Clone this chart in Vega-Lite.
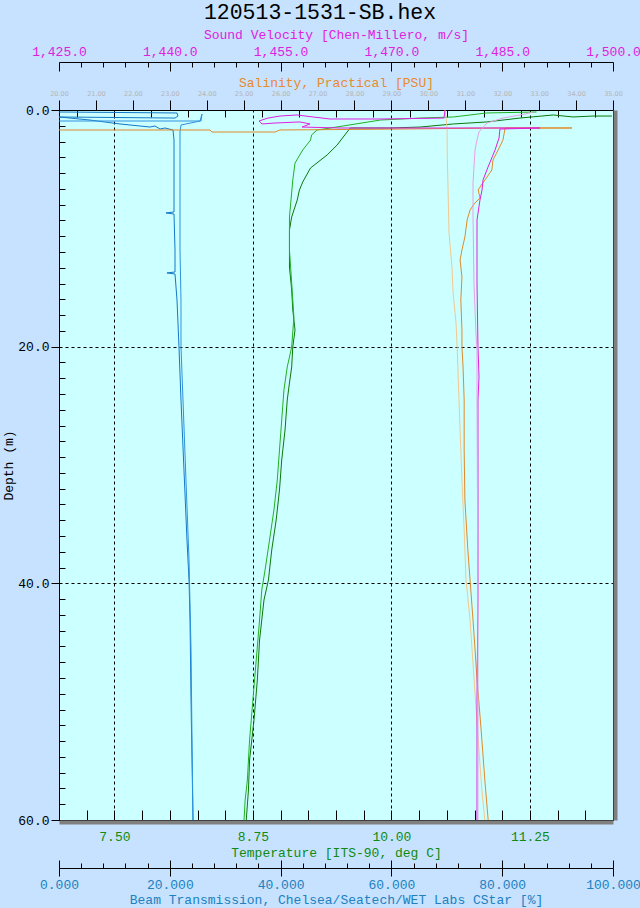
{
"$schema": "https://vega.github.io/schema/vega-lite/v6.json",
"width": 554, "height": 710,
"autosize": {"type": "none"},
"padding": {"left": 59, "top": 110, "right": 27, "bottom": 88},
"background": "#c6e2fe",
"title": {"text": "120513-1531-SB.hex", "font": "Liberation Mono", "fontSize": 21.5, "fontWeight": "normal", "color": "#000000", "anchor": "middle", "dx": -16, "offset": 5},
"config": {
  "view": {"fill": "#ccffff", "stroke": "#000000", "strokeWidth": 1},
  "axis": {"labelFont": "Liberation Mono", "titleFont": "Liberation Mono", "labelFontSize": 13, "titleFontSize": 13, "titleFontWeight": "normal", "labelOverlap": false, "labelFlush": false, "labelBound": false, "domainColor": "#000000", "tickColor": "#000000", "grid": false}
},
"datasets": {
  "temp": [
    {"i":0,"cast":"down","v":11.99,"d":0.51},{"i":1,"cast":"down","v":11.82,"d":0.51},{"i":2,"cast":"down","v":11.64,"d":0.59},{"i":3,"cast":"down","v":11.46,"d":0.42},{"i":4,"cast":"down","v":11.16,"d":0.68},{"i":5,"cast":"down","v":10.86,"d":1.01},{"i":6,"cast":"down","v":10.56,"d":1.18},{"i":7,"cast":"down","v":10.26,"d":1.44},{"i":8,"cast":"down","v":9.99,"d":1.52},{"i":9,"cast":"down","v":9.63,"d":1.52},{"i":10,"cast":"down","v":9.60,"d":1.86},{"i":11,"cast":"down","v":9.51,"d":2.96},{"i":12,"cast":"down","v":9.42,"d":3.80},{"i":13,"cast":"down","v":9.27,"d":4.90},{"i":14,"cast":"down","v":9.20,"d":6.08},{"i":15,"cast":"down","v":9.17,"d":6.76},{"i":16,"cast":"down","v":9.15,"d":7.61},{"i":17,"cast":"down","v":9.10,"d":9.04},{"i":18,"cast":"down","v":9.08,"d":10.14},{"i":19,"cast":"down","v":9.08,"d":11.83},{"i":20,"cast":"down","v":9.08,"d":13.27},{"i":21,"cast":"down","v":9.10,"d":15.21},{"i":22,"cast":"down","v":9.11,"d":16.90},{"i":23,"cast":"down","v":9.13,"d":18.59},{"i":24,"cast":"down","v":9.11,"d":20.03},{"i":25,"cast":"down","v":9.10,"d":21.72},{"i":26,"cast":"down","v":9.08,"d":23.07},{"i":27,"cast":"down","v":9.06,"d":24.51},{"i":28,"cast":"down","v":9.04,"d":27.04},{"i":29,"cast":"down","v":9.01,"d":29.58},{"i":30,"cast":"down","v":8.99,"d":32.11},{"i":31,"cast":"down","v":8.96,"d":34.65},{"i":32,"cast":"down","v":8.92,"d":37.18},{"i":33,"cast":"down","v":8.89,"d":39.72},{"i":34,"cast":"down","v":8.85,"d":41.41},{"i":35,"cast":"down","v":8.81,"d":44.79},{"i":36,"cast":"down","v":8.79,"d":48.17},{"i":37,"cast":"down","v":8.76,"d":51.55},{"i":38,"cast":"down","v":8.72,"d":54.93},{"i":39,"cast":"down","v":8.71,"d":57.46},{"i":40,"cast":"down","v":8.69,"d":60},
    {"i":0,"cast":"up","v":8.67,"d":60},{"i":1,"cast":"up","v":8.68,"d":58.31},{"i":2,"cast":"up","v":8.70,"d":56.62},{"i":3,"cast":"up","v":8.72,"d":53.24},{"i":4,"cast":"up","v":8.75,"d":49.86},{"i":5,"cast":"up","v":8.78,"d":46.48},{"i":6,"cast":"up","v":8.81,"d":43.10},{"i":7,"cast":"up","v":8.83,"d":40.56},{"i":8,"cast":"up","v":8.86,"d":38.87},{"i":9,"cast":"up","v":8.90,"d":36.34},{"i":10,"cast":"up","v":8.94,"d":33.80},{"i":11,"cast":"up","v":8.97,"d":31.27},{"i":12,"cast":"up","v":8.99,"d":28.73},{"i":13,"cast":"up","v":9.01,"d":26.20},{"i":14,"cast":"up","v":9.03,"d":23.66},{"i":15,"cast":"up","v":9.06,"d":21.72},{"i":16,"cast":"up","v":9.10,"d":20.03},{"i":17,"cast":"up","v":9.12,"d":17.49},{"i":18,"cast":"up","v":9.10,"d":14.62},{"i":19,"cast":"up","v":9.08,"d":11.83},{"i":20,"cast":"up","v":9.08,"d":9.04},{"i":21,"cast":"up","v":9.11,"d":5.92},{"i":22,"cast":"up","v":9.13,"d":4.48},{"i":23,"cast":"up","v":9.20,"d":3.38},{"i":24,"cast":"up","v":9.27,"d":2.54},{"i":25,"cast":"up","v":9.28,"d":2.11},{"i":26,"cast":"up","v":9.33,"d":1.69},{"i":27,"cast":"up","v":9.45,"d":1.52},{"i":28,"cast":"up","v":9.90,"d":0.85},{"i":29,"cast":"up","v":10.26,"d":0.68},{"i":30,"cast":"up","v":10.56,"d":0.59},{"i":31,"cast":"up","v":10.86,"d":0.25},{"i":32,"cast":"up","v":11.31,"d":0.17}
  ],
  "beam": [
    {"i":0,"cast":"down","v":0,"d":0.17},{"i":1,"cast":"down","v":21.30,"d":0.25},{"i":2,"cast":"down","v":21.48,"d":0.51},{"i":3,"cast":"down","v":20.94,"d":0.68},{"i":4,"cast":"down","v":0,"d":0.59},{"i":5,"cast":"down","v":5.60,"d":0.85},{"i":6,"cast":"down","v":11.01,"d":1.18},{"i":7,"cast":"down","v":16.43,"d":1.44},{"i":8,"cast":"down","v":17.33,"d":1.35},{"i":9,"cast":"down","v":18.23,"d":1.61},{"i":10,"cast":"down","v":19.13,"d":1.52},{"i":11,"cast":"down","v":20.58,"d":1.69},{"i":12,"cast":"down","v":20.76,"d":2.54},{"i":13,"cast":"down","v":20.76,"d":3.38},{"i":14,"cast":"down","v":20.76,"d":8.62},{"i":15,"cast":"down","v":19.31,"d":8.70},{"i":16,"cast":"down","v":20.76,"d":8.79},{"i":17,"cast":"down","v":20.94,"d":11.83},{"i":18,"cast":"down","v":20.94,"d":13.69},{"i":19,"cast":"down","v":19.49,"d":13.77},{"i":20,"cast":"down","v":20.94,"d":13.86},{"i":21,"cast":"down","v":21.30,"d":16.06},{"i":22,"cast":"down","v":21.66,"d":20.03},{"i":23,"cast":"down","v":22.02,"d":24.51},{"i":24,"cast":"down","v":22.56,"d":30.42},{"i":25,"cast":"down","v":23.10,"d":36.34},{"i":26,"cast":"down","v":23.47,"d":39.72},{"i":27,"cast":"down","v":23.65,"d":43.10},{"i":28,"cast":"down","v":23.83,"d":49.86},{"i":29,"cast":"down","v":24.01,"d":54.93},{"i":30,"cast":"down","v":24.19,"d":60},
    {"i":0,"cast":"up","v":24.19,"d":60},{"i":1,"cast":"up","v":24.01,"d":53.24},{"i":2,"cast":"up","v":23.83,"d":45.63},{"i":3,"cast":"up","v":23.47,"d":38.03},{"i":4,"cast":"up","v":22.92,"d":31.27},{"i":5,"cast":"up","v":22.38,"d":24.51},{"i":6,"cast":"up","v":22.02,"d":20.03},{"i":7,"cast":"up","v":22.02,"d":16.06},{"i":8,"cast":"up","v":21.84,"d":11.83},{"i":9,"cast":"up","v":21.84,"d":7.61},{"i":10,"cast":"up","v":21.84,"d":3.38},{"i":11,"cast":"up","v":21.84,"d":1.86},{"i":12,"cast":"up","v":22.02,"d":1.27},{"i":13,"cast":"up","v":25.45,"d":0.93},{"i":14,"cast":"up","v":25.81,"d":0.34},{"i":15,"cast":"up","v":25.63,"d":0.93},{"i":16,"cast":"up","v":0,"d":0.93}
  ],
  "sal": [
    {"i":0,"cast":"down","v":20.00,"d":1.69},{"i":1,"cast":"down","v":24.09,"d":1.69},{"i":2,"cast":"down","v":24.14,"d":1.86},{"i":3,"cast":"down","v":25.85,"d":1.86},{"i":4,"cast":"down","v":25.98,"d":1.69},{"i":5,"cast":"down","v":29.23,"d":1.61},{"i":6,"cast":"down","v":31.94,"d":1.52},{"i":7,"cast":"down","v":33.89,"d":1.52},{"i":8,"cast":"down","v":32.08,"d":1.52},{"i":9,"cast":"down","v":32.02,"d":2.54},{"i":10,"cast":"down","v":31.89,"d":3.38},{"i":11,"cast":"down","v":31.75,"d":4.23},{"i":12,"cast":"down","v":31.72,"d":5.07},{"i":13,"cast":"down","v":31.59,"d":5.66},{"i":14,"cast":"down","v":31.40,"d":6.51},{"i":15,"cast":"down","v":31.35,"d":6.76},{"i":16,"cast":"down","v":31.40,"d":7.44},{"i":17,"cast":"down","v":31.26,"d":7.86},{"i":18,"cast":"down","v":31.13,"d":8.45},{"i":19,"cast":"down","v":31.05,"d":9.30},{"i":20,"cast":"down","v":30.99,"d":10.73},{"i":21,"cast":"down","v":30.91,"d":11.83},{"i":22,"cast":"down","v":30.86,"d":12.68},{"i":23,"cast":"down","v":30.91,"d":14.11},{"i":24,"cast":"down","v":30.88,"d":16.06},{"i":25,"cast":"down","v":30.91,"d":18.59},{"i":26,"cast":"down","v":30.91,"d":20.03},{"i":27,"cast":"down","v":30.94,"d":21.72},{"i":28,"cast":"down","v":30.97,"d":24.51},{"i":29,"cast":"down","v":30.97,"d":28.73},{"i":30,"cast":"down","v":30.99,"d":32.96},{"i":31,"cast":"down","v":31.07,"d":37.18},{"i":32,"cast":"down","v":31.13,"d":39.72},{"i":33,"cast":"down","v":31.21,"d":43.10},{"i":34,"cast":"down","v":31.32,"d":48.17},{"i":35,"cast":"down","v":31.43,"d":52.39},{"i":36,"cast":"down","v":31.53,"d":56.62},{"i":37,"cast":"down","v":31.62,"d":60},
    {"i":0,"cast":"up","v":31.53,"d":60},{"i":1,"cast":"up","v":31.45,"d":57.46},{"i":2,"cast":"up","v":31.35,"d":53.24},{"i":3,"cast":"up","v":31.24,"d":48.17},{"i":4,"cast":"up","v":31.13,"d":43.10},{"i":5,"cast":"up","v":31.02,"d":39.72},{"i":6,"cast":"up","v":30.97,"d":35.49},{"i":7,"cast":"up","v":30.91,"d":31.27},{"i":8,"cast":"up","v":30.86,"d":27.04},{"i":9,"cast":"up","v":30.83,"d":24.51},{"i":10,"cast":"up","v":30.80,"d":21.72},{"i":11,"cast":"up","v":30.78,"d":20.03},{"i":12,"cast":"up","v":30.75,"d":18.00},{"i":13,"cast":"up","v":30.67,"d":15.46},{"i":14,"cast":"up","v":30.64,"d":13.27},{"i":15,"cast":"up","v":30.56,"d":10.39},{"i":16,"cast":"up","v":30.53,"d":6.17},{"i":17,"cast":"up","v":30.51,"d":3.38},{"i":18,"cast":"up","v":30.51,"d":1.52},{"i":19,"cast":"up","v":30.48,"d":0.68},{"i":20,"cast":"up","v":30.45,"d":0}
  ],
  "sv": [
    {"i":0,"cast":"down","v":1477.26,"d":0},{"i":1,"cast":"down","v":1477.12,"d":0.68},{"i":2,"cast":"down","v":1468.46,"d":0.76},{"i":3,"cast":"down","v":1461.69,"d":0.76},{"i":4,"cast":"down","v":1459.39,"d":0.59},{"i":5,"cast":"down","v":1457.22,"d":0.42},{"i":6,"cast":"down","v":1454.92,"d":0.51},{"i":7,"cast":"down","v":1453.29,"d":0.68},{"i":8,"cast":"down","v":1452.08,"d":0.93},{"i":9,"cast":"down","v":1452.48,"d":1.18},{"i":10,"cast":"down","v":1454.24,"d":1.10},{"i":11,"cast":"down","v":1457.63,"d":1.01},{"i":12,"cast":"down","v":1458.98,"d":1.18},{"i":13,"cast":"down","v":1457.90,"d":1.44},{"i":14,"cast":"down","v":1463.04,"d":1.52},{"i":15,"cast":"down","v":1475.23,"d":1.52},{"i":16,"cast":"down","v":1483.62,"d":1.52},{"i":17,"cast":"down","v":1490.12,"d":1.52},{"i":18,"cast":"down","v":1484.70,"d":1.61},{"i":19,"cast":"down","v":1484.57,"d":2.37},{"i":20,"cast":"down","v":1484.03,"d":3.38},{"i":21,"cast":"down","v":1483.08,"d":4.82},{"i":22,"cast":"down","v":1482.40,"d":5.92},{"i":23,"cast":"down","v":1482.27,"d":6.76},{"i":24,"cast":"down","v":1481.99,"d":7.61},{"i":25,"cast":"down","v":1481.59,"d":9.30},{"i":26,"cast":"down","v":1481.59,"d":14.62},{"i":27,"cast":"down","v":1481.72,"d":20.03},{"i":28,"cast":"down","v":1481.86,"d":22.56},{"i":29,"cast":"down","v":1481.72,"d":24.51},{"i":30,"cast":"down","v":1481.72,"d":32.96},{"i":31,"cast":"down","v":1481.72,"d":41.41},{"i":32,"cast":"down","v":1481.59,"d":49.86},{"i":33,"cast":"down","v":1481.59,"d":60},
    {"i":0,"cast":"up","v":1481.72,"d":60},{"i":1,"cast":"up","v":1481.72,"d":41.41},{"i":2,"cast":"up","v":1481.59,"d":24.51},{"i":3,"cast":"up","v":1481.59,"d":20.28},{"i":4,"cast":"up","v":1481.45,"d":18.85},{"i":5,"cast":"up","v":1481.18,"d":14.62},{"i":6,"cast":"up","v":1481.05,"d":9.04},{"i":7,"cast":"up","v":1481.05,"d":6.17},{"i":8,"cast":"up","v":1481.32,"d":3.38},{"i":9,"cast":"up","v":1481.59,"d":2.54},{"i":10,"cast":"up","v":1481.86,"d":1.86},{"i":11,"cast":"up","v":1482.94,"d":1.10},{"i":12,"cast":"up","v":1485.11,"d":0.68},{"i":13,"cast":"up","v":1487.41,"d":0.42},{"i":14,"cast":"up","v":1488.76,"d":0.25},{"i":15,"cast":"up","v":1489.17,"d":0.17}
  ]
},
"layer": [
  {
    "data": {"name": "temp"},
    "mark": {"type": "line", "strokeWidth": 1},
    "encoding": {
      "x": {"field": "v", "type": "quantitative", "scale": {"domain": [7, 12], "nice": false, "zero": false},
        "axis": {"orient": "bottom", "offset": 0, "values": [7,7.25,7.5,7.75,8,8.25,8.5,8.75,9,9.25,9.5,9.75,10,10.25,10.5,10.75,11,11.25,11.5,11.75,12],
          "tickSize": -10, "labelPadding": 20,
          "labelExpr": "(datum.value === 7.5 || datum.value === 8.75 || datum.value === 10 || datum.value === 11.25) ? format(datum.value, '.2f') : ''",
          "labelColor": "#108a10", "title": "Temperature [ITS-90, deg C]", "titleColor": "#108a10", "titlePadding": 3,
          "grid": true, "gridColor": "#000000", "gridDash": [3, 3], "gridWidth": 1,
          "gridOpacity": {"condition": {"test": "datum.value === 7.5 || datum.value === 8.75 || datum.value === 10 || datum.value === 11.25", "value": 1}, "value": 0}}},
      "y": {"field": "d", "type": "quantitative", "scale": {"domain": [0, 60], "reverse": true, "nice": false, "zero": false},
        "axis": {"orient": "left", "values": [0,1.3333,2.6667,4,5.3333,6.6667,8,9.3333,10.6667,12,13.3333,14.6667,16,17.3333,18.6667,20,21.3333,22.6667,24,25.3333,26.6667,28,29.3333,30.6667,32,33.3333,34.6667,36,37.3333,38.6667,40,41.3333,42.6667,44,45.3333,46.6667,48,49.3333,50.6667,52,53.3333,54.6667,56,57.3333,58.6667,60],
          "tickSize": {"condition": {"test": "datum.value % 20 === 0", "value": 8}, "value": -6},
          "labelPadding": 2,
          "labelExpr": "datum.value % 20 === 0 ? format(datum.value, '.1f') : ''",
          "labelColor": "#000000", "title": "Depth (m)", "titleColor": "#000000", "titlePadding": 2,
          "grid": true, "gridColor": "#000000", "gridDash": [3, 3], "gridWidth": 1,
          "gridOpacity": {"condition": {"test": "datum.value === 20 || datum.value === 40", "value": 1}, "value": 0}}},
      "color": {"field": "cast", "type": "nominal", "scale": {"domain": ["down", "up"], "range": ["#0a780a", "#22b022"]}, "legend": null},
      "order": {"field": "i", "type": "quantitative"}
    }
  },
  {
    "data": {"name": "beam"},
    "mark": {"type": "line", "strokeWidth": 1},
    "encoding": {
      "x": {"field": "v", "type": "quantitative", "scale": {"domain": [0, 100], "nice": false, "zero": false},
        "axis": {"orient": "bottom", "offset": 48, "values": [0,4,8,12,16,20,24,28,32,36,40,44,48,52,56,60,64,68,72,76,80,84,88,92,96,100],
          "tickSize": {"condition": {"test": "datum.value % 20 === 0", "value": 8}, "value": -5},
          "labelPadding": 2,
          "labelExpr": "datum.value % 20 === 0 ? format(datum.value, '.3f') : ''",
          "labelColor": "#2080c0", "title": "Beam Transmission, Chelsea/Seatech/WET Labs CStar [%]", "titleColor": "#2080c0", "titlePadding": 2}},
      "y": {"field": "d", "type": "quantitative", "scale": {"domain": [0, 60], "reverse": true, "nice": false, "zero": false}, "axis": null},
      "color": {"field": "cast", "type": "nominal", "scale": {"domain": ["down", "up"], "range": ["#1478c8", "#2e92de"]}, "legend": null},
      "order": {"field": "i", "type": "quantitative"}
    }
  },
  {
    "data": {"name": "sal"},
    "mark": {"type": "line", "strokeWidth": 1},
    "encoding": {
      "x": {"field": "v", "type": "quantitative", "scale": {"domain": [20, 35], "nice": false, "zero": false},
        "axis": {"orient": "top", "offset": 0, "values": [20,20.5,21,21.5,22,22.5,23,23.5,24,24.5,25,25.5,26,26.5,27,27.5,28,28.5,29,29.5,30,30.5,31,31.5,32,32.5,33,33.5,34,34.5,35],
          "tickSize": {"condition": {"test": "datum.value % 1 === 0", "value": 10}, "value": -7},
          "labelPadding": 4,
          "labelExpr": "datum.value % 1 === 0 ? format(datum.value, '.2f') : ''",
          "labelFont": "DejaVu Sans", "labelFontSize": 6.5, "labelColor": "#b4b4b4",
          "title": "Salinity, Practical [PSU]", "titleColor": "#e88a30", "titlePadding": 1}},
      "y": {"field": "d", "type": "quantitative", "scale": {"domain": [0, 60], "reverse": true, "nice": false, "zero": false}, "axis": null},
      "color": {"field": "cast", "type": "nominal", "scale": {"domain": ["down", "up"], "range": ["#e08a28", "#f2c890"]}, "legend": null},
      "order": {"field": "i", "type": "quantitative"}
    }
  },
  {
    "data": {"name": "sv"},
    "mark": {"type": "line", "strokeWidth": 1},
    "encoding": {
      "x": {"field": "v", "type": "quantitative", "scale": {"domain": [1425, 1500], "nice": false, "zero": false},
        "axis": {"orient": "top", "offset": 48, "values": [1425,1428,1431,1434,1437,1440,1443,1446,1449,1452,1455,1458,1461,1464,1467,1470,1473,1476,1479,1482,1485,1488,1491,1494,1497,1500],
          "tickSize": {"condition": {"test": "(datum.value - 1425) % 15 === 0", "value": -9}, "value": -5},
          "labelPadding": 13,
          "labelExpr": "(datum.value - 1425) % 15 === 0 ? format(datum.value, ',.1f') : ''",
          "labelColor": "#e020e0", "title": "Sound Velocity [Chen-Millero, m/s]", "titleColor": "#e020e0", "titlePadding": 0}},
      "y": {"field": "d", "type": "quantitative", "scale": {"domain": [0, 60], "reverse": true, "nice": false, "zero": false}, "axis": null},
      "color": {"field": "cast", "type": "nominal", "scale": {"domain": ["down", "up"], "range": ["#e020e0", "#e8a0e4"]}, "legend": null},
      "order": {"field": "i", "type": "quantitative"}
    }
  },
  {
    "data": {"name": "beam"},
    "mark": {"type": "point", "opacity": 0},
    "encoding": {
      "x": {"field": "v", "type": "quantitative", "scale": {"domain": [0, 100], "nice": false, "zero": false},
        "axis": {"orient": "bottom", "offset": 48, "values": [0,20,40,60,80,100], "tickSize": -8, "labels": false, "domain": false, "title": null, "grid": false}},
      "y": {"field": "d", "type": "quantitative", "scale": {"domain": [0, 60], "reverse": true, "nice": false, "zero": false}, "axis": null}
    }
  },
  {
    "data": {"name": "beam"},
    "mark": {"type": "point", "opacity": 0},
    "encoding": {
      "x": {"field": "v", "type": "quantitative", "scale": {"domain": [0, 100], "nice": false, "zero": false},
        "axis": {"orient": "bottom", "offset": 2, "domainColor": "#808080", "domainWidth": 4, "ticks": false, "labels": false, "title": null, "grid": false}},
      "y": {"field": "d", "type": "quantitative", "scale": {"domain": [0, 60], "reverse": true, "nice": false, "zero": false},
        "axis": {"orient": "right", "offset": 2, "domainColor": "#808080", "domainWidth": 4, "ticks": false, "labels": false, "title": null, "grid": false}}
    }
  }
],
"resolve": {"scale": {"x": "independent", "color": "independent"}, "axis": {"x": "independent", "y": "independent"}}
}
